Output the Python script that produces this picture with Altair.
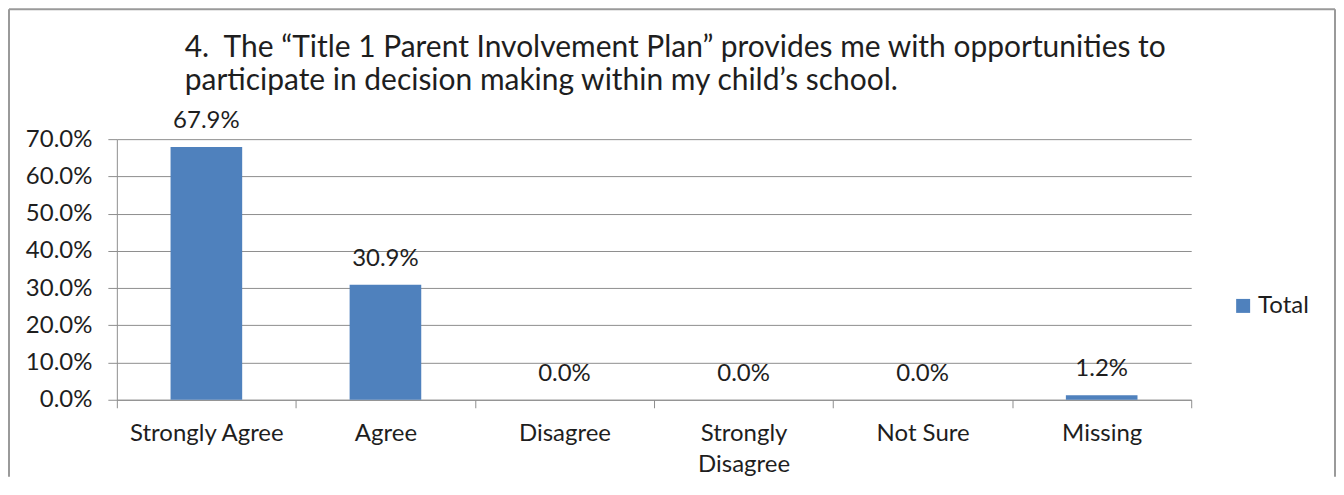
import altair as alt
import pandas as pd

CATEGORIES = ["Strongly Agree", "Agree", "Disagree", "Strongly Disagree", "Not Sure", "Missing"]
VALUES = [0.679, 0.309, 0.0, 0.0, 0.0, 0.012]
SERIES = "Total"
Y_TICKS = [0.0, 0.1, 0.2, 0.3, 0.4, 0.5, 0.6, 0.7]
TITLE_LINES = [
    "4.\u00a0 The \u201cTitle 1 Parent Involvement Plan\u201d provides me with opportunities to",
    "participate in decision making within my child\u2019s school.",
]

BLUE = "#4F81BD"
GRAY = "#8e8e8e"
TEXT = "#1e1e1e"
FONT = "Lato"
W, H = 1076, 261

df = pd.DataFrame({"category": CATEGORIES, "value": VALUES, "series": [SERIES] * len(CATEGORIES)})
one = pd.DataFrame({"title": ["\n".join(TITLE_LINES)]})

x_enc = alt.X(
    "category:N",
    sort=CATEGORIES,
    scale=alt.Scale(paddingInner=0, paddingOuter=0),
    axis=alt.Axis(
        title=None,
        labelAngle=0,
        labelFont=FONT,
        labelFontSize=24,
        labelColor=TEXT,
        labelPadding=14,
        labelLineHeight=31,
        labelExpr="datum.label == 'Strongly Disagree' ? ['Strongly', 'Disagree'] : datum.label",
        tickBand="extent",
        tickSize=8,
        tickColor=GRAY,
        domainColor=GRAY,
        grid=False,
    ),
)
y_enc = alt.Y(
    "value:Q",
    scale=alt.Scale(domain=[0, 0.7], nice=False),
    axis=alt.Axis(
        title=None,
        values=Y_TICKS,
        tickCount=len(Y_TICKS),
        labelOverlap=False,
        format=".1%",
        labelFont=FONT,
        labelFontSize=24,
        labelColor=TEXT,
        labelPadding=16,
        tickSize=9,
        tickColor=GRAY,
        domainColor=GRAY,
        gridColor=GRAY,
        gridWidth=1,
    ),
)

bars = alt.Chart(df).mark_bar(width=alt.RelativeBandSize(0.4)).encode(
    x=x_enc,
    y=y_enc,
    color=alt.Color(
        "series:N",
        scale=alt.Scale(range=[BLUE]),
        legend=alt.Legend(
            title=None,
            orient="none",
            legendX=1116,
            legendY=155,
            symbolType="square",
            symbolSize=196,
            symbolStrokeWidth=0,
            labelFont=FONT,
            labelFontSize=24,
            labelColor=TEXT,
            labelOffset=3,
            padding=0,
        ),
    ),
)

labels = alt.Chart(df).mark_text(
    dy=-19, baseline="alphabetic", font=FONT, fontSize=24, color=TEXT
).encode(
    x=alt.X("category:N", sort=CATEGORIES),
    y="value:Q",
    text=alt.Text("value:Q", format=".1%"),
)

title = alt.Chart(one).mark_text(
    align="left", baseline="alphabetic", lineBreak="\n", lineHeight=33,
    font=FONT, fontSize=30, color=TEXT,
).encode(x=alt.value(68), y=alt.value(-82), text="title:N")

border_l = alt.Chart(one).mark_rule(color="#9a9a9a", strokeWidth=2).encode(
    x=alt.value(-108), y=alt.value(-130), y2=alt.value(338))
border_t = alt.Chart(one).mark_rule(color="#9a9a9a", strokeWidth=2).encode(
    x=alt.value(-108), x2=alt.value(1220), y=alt.value(-130))
border_r = alt.Chart(one).mark_rule(color="#9a9a9a", strokeWidth=2).encode(
    x=alt.value(1220), y=alt.value(-130), y2=alt.value(338))

chart = alt.layer(border_l, border_t, border_r, title, bars, labels).properties(
    width=W, height=H, padding=0, background="white"
).configure_view(stroke="transparent")

chart.save("out.html", embed_options={"renderer": "svg", "actions": False})
